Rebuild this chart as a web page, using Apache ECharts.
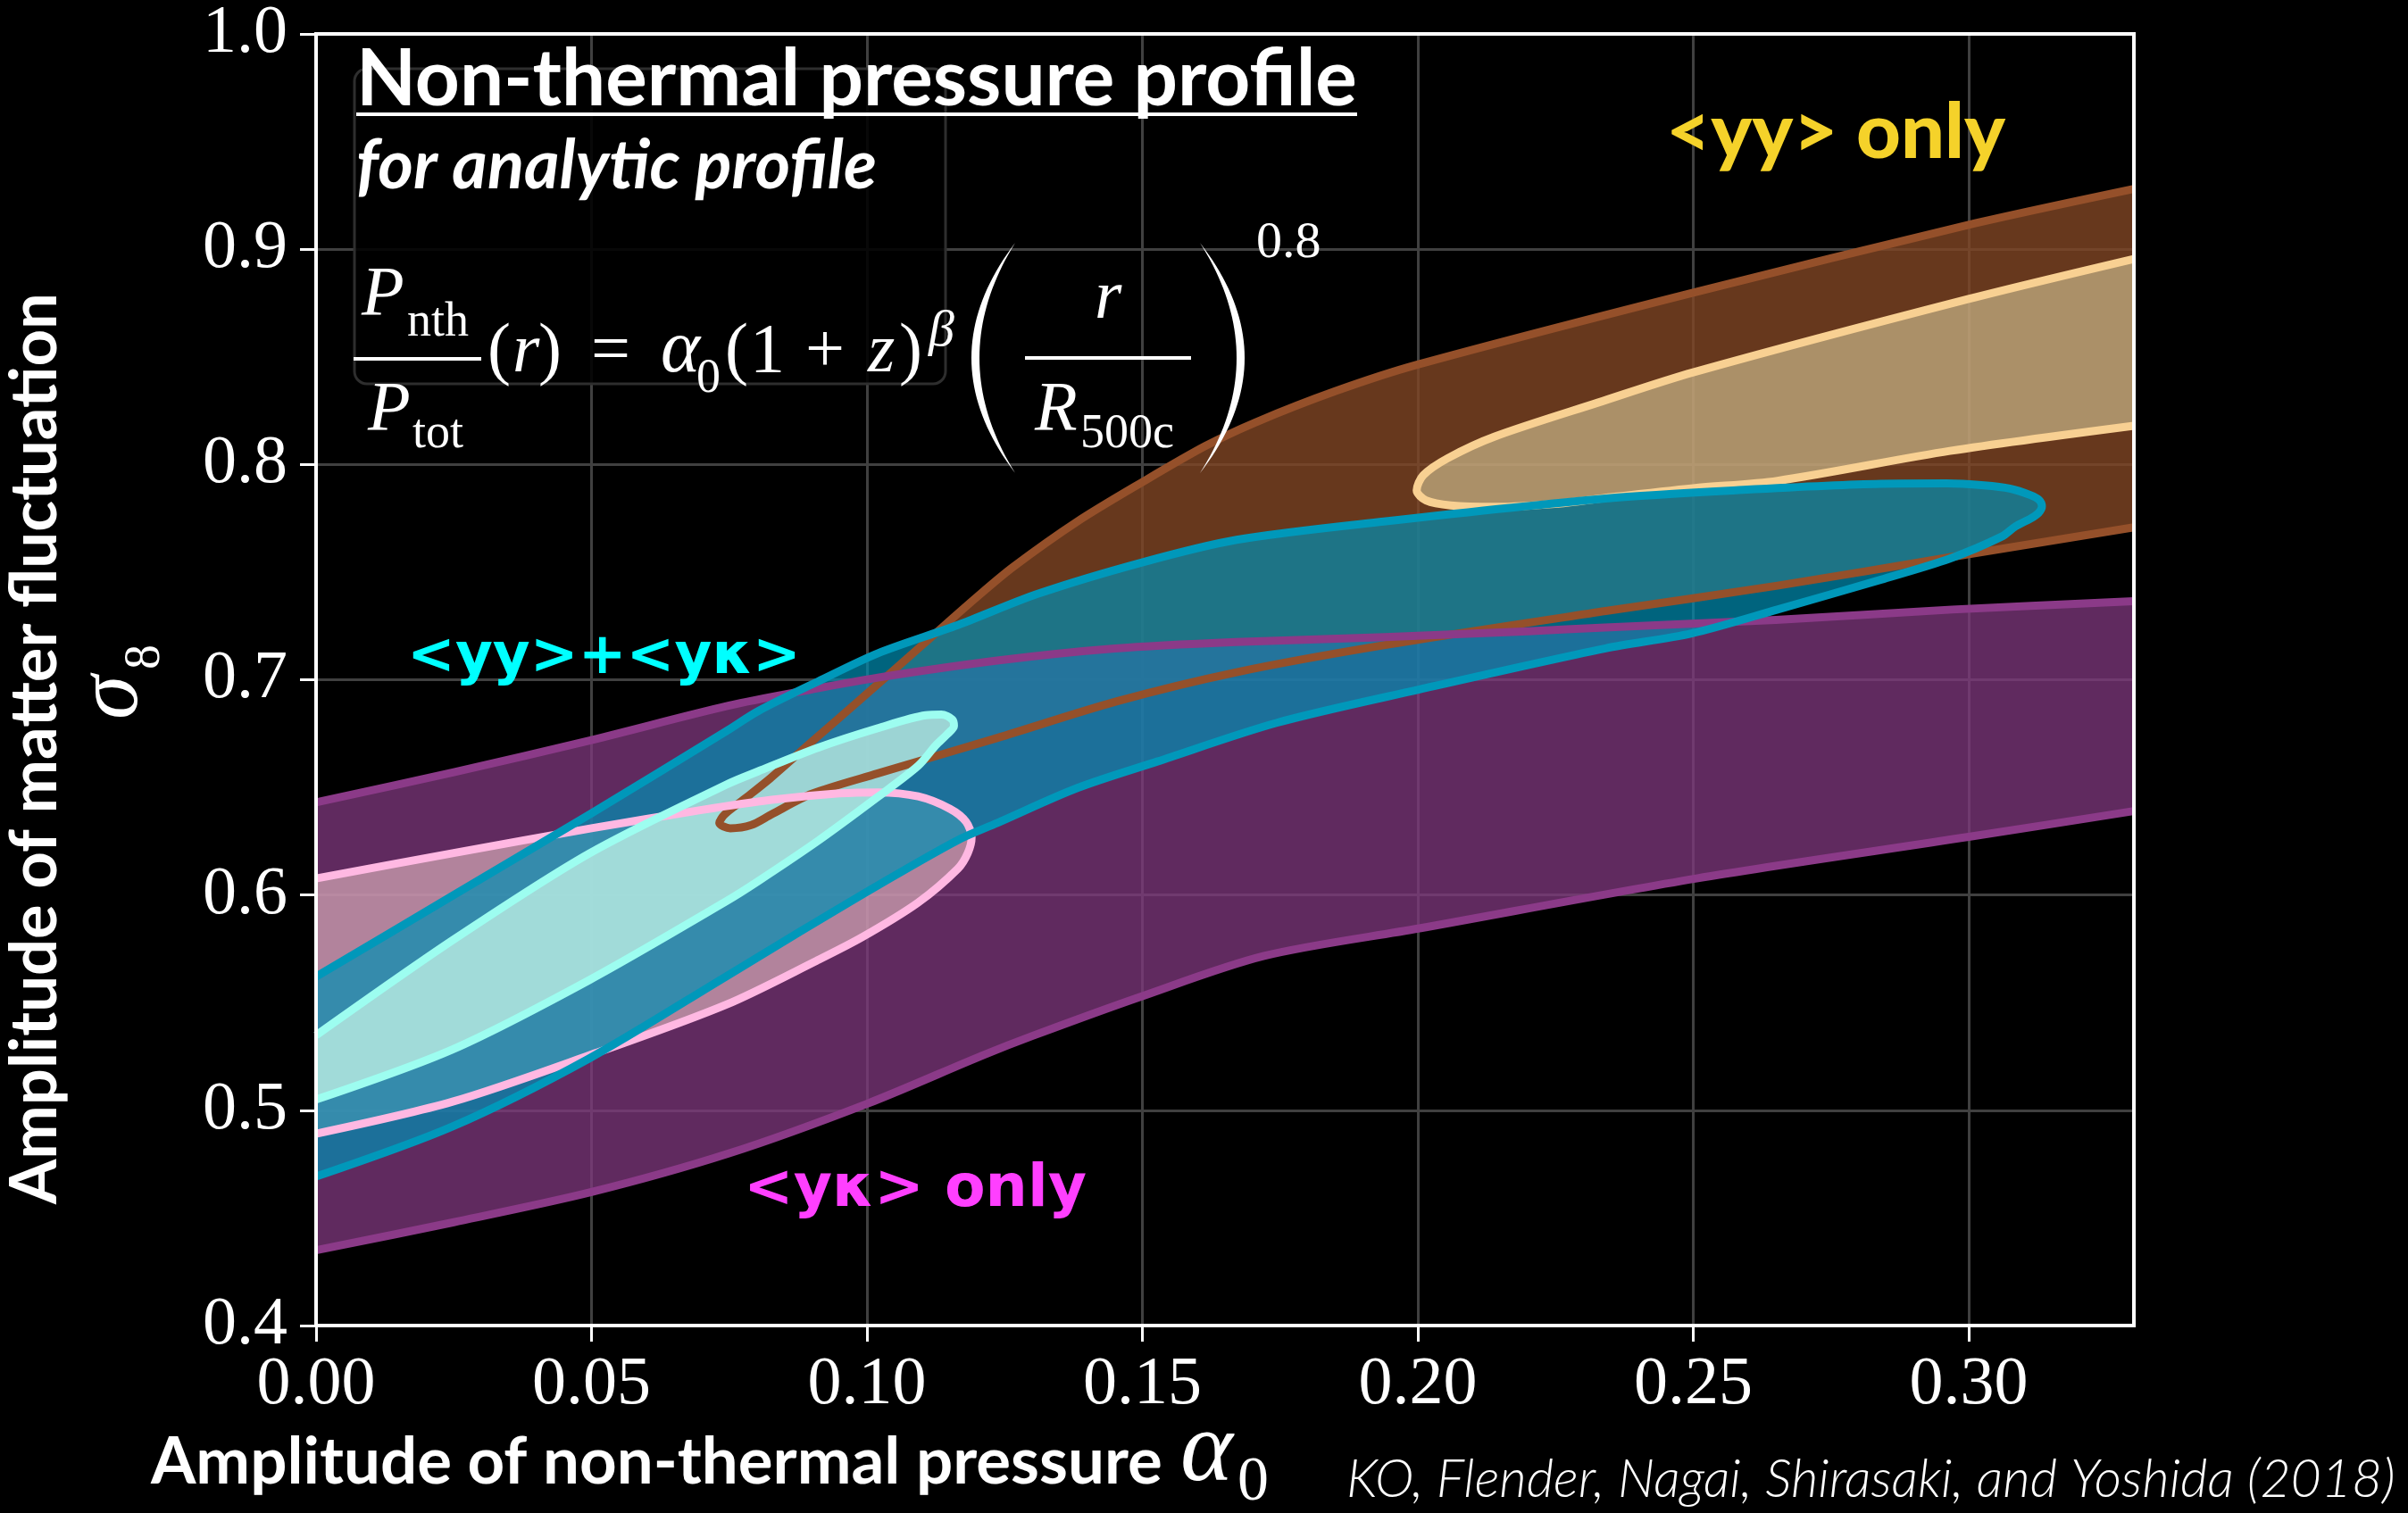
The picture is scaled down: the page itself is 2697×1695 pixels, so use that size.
<!DOCTYPE html>
<html>
<head>
<meta charset="utf-8">
<script src="https://cdn.jsdelivr.net/npm/echarts@6/dist/echarts.min.js"></script>
<style>
  html, body { margin: 0; padding: 0; background: #000; }
  #chart { width: 2697px; height: 1695px; }
</style>
</head>
<body>
<div id="chart"></div>
<script>
// ---- axis ticks ----
const xTicks = [0, 0.05, 0.10, 0.15, 0.20, 0.25, 0.30];
const yTicks = [0.4, 0.5, 0.6, 0.7, 0.8, 0.9, 1.0];

// ---- <yκ> only : 95% band (two edges) and 68% region (open at alpha0 = 0) ----
const ykBandUpper = [[0, 0.643], [0.025, 0.657], [0.05, 0.672], [0.075, 0.688], [0.09, 0.6955], [0.102, 0.701],
  [0.124, 0.709], [0.145, 0.7145], [0.167, 0.7175], [0.194, 0.7198], [0.22, 0.7225], [0.234, 0.7243],
  [0.265, 0.7278], [0.297, 0.7326], [0.33, 0.7365]];
const ykBandLower = [[0, 0.435], [0.025, 0.448], [0.05, 0.462], [0.075, 0.480], [0.1, 0.503], [0.121, 0.5255],
  [0.13, 0.5345], [0.1494, 0.5525], [0.1721, 0.5717], [0.2003, 0.5845], [0.2506, 0.6077], [0.30, 0.627], [0.33, 0.639]];
const ykInner = [[0, 0.6077], [0.025, 0.6195], [0.05, 0.631], [0.07, 0.6395], [0.0827, 0.6442], [0.095, 0.6472],
  [0.102, 0.6477], [0.1093, 0.6458], [0.1151, 0.640], [0.118, 0.634], [0.119, 0.6267], [0.1183, 0.6194],
  [0.1165, 0.6122], [0.1093, 0.5965], [0.0992, 0.5805], [0.0909, 0.5695], [0.0744, 0.549], [0.0496, 0.5255],
  [0.0248, 0.504], [0, 0.4891]];

// ---- <yy> only : 95% and 68% regions (open at the right edge) ----
const yyOuter = [[0.33, 0.928], [0.30, 0.9113], [0.25, 0.8798], [0.20, 0.8464], [0.185, 0.834], [0.1705, 0.8195],
  [0.1614, 0.8085], [0.1498, 0.7915], [0.1382, 0.7735], [0.1266, 0.7525], [0.12, 0.7385], [0.11, 0.716],
  [0.10, 0.6935], [0.09, 0.6712], [0.0825, 0.6543], [0.0777, 0.6445], [0.0742, 0.6375], [0.0732, 0.6335],
  [0.0752, 0.631], [0.079, 0.6325], [0.0827, 0.6375], [0.090, 0.647], [0.102, 0.6565], [0.1237, 0.673],
  [0.1454, 0.690], [0.1671, 0.7035], [0.1938, 0.716], [0.2341, 0.7319], [0.2653, 0.7437], [0.2966, 0.7569],
  [0.33, 0.7708]];
const yyInner = [[0.33, 0.8955], [0.30, 0.8769], [0.25, 0.8428], [0.2328, 0.8288], [0.214, 0.813], [0.2055, 0.803],
  [0.201, 0.795], [0.1998, 0.788], [0.2015, 0.7833], [0.206, 0.781], [0.214, 0.7803], [0.2255, 0.7818],
  [0.2341, 0.7845], [0.25, 0.789], [0.2653, 0.7924], [0.2966, 0.8063], [0.33, 0.818]];

// ---- <yy>+<yκ> : 95% and 68% regions (open at alpha0 = 0) ----
const jointOuter = [[0, 0.5621], [0.025, 0.600], [0.05, 0.638], [0.0744, 0.676], [0.0803, 0.6855], [0.0912, 0.6993],
  [0.102, 0.7123], [0.1165, 0.7254], [0.131, 0.7399], [0.1498, 0.7544], [0.1671, 0.765], [0.1938, 0.7735],
  [0.2341, 0.7842], [0.2591, 0.7882], [0.2841, 0.791], [0.296, 0.7912], [0.3028, 0.7903], [0.3075, 0.7888],
  [0.3112, 0.7858], [0.3128, 0.7835], [0.3133, 0.7805], [0.3127, 0.7775], [0.3112, 0.7748], [0.3085, 0.7712],
  [0.306, 0.7665], [0.2966, 0.7563], [0.2841, 0.7465], [0.2653, 0.7326], [0.2497, 0.7215], [0.2341, 0.7146],
  [0.2003, 0.6955], [0.1744, 0.680], [0.1527, 0.662], [0.1382, 0.6497], [0.1237, 0.6335], [0.1165, 0.6255],
  [0.102, 0.6045], [0.0876, 0.5826], [0.0744, 0.5621], [0.0496, 0.5241], [0.0248, 0.4925], [0, 0.4692]];
const jointInner = [[0, 0.5348], [0.0248, 0.579], [0.0496, 0.6193], [0.0744, 0.6512], [0.0803, 0.6575],
  [0.0912, 0.6685], [0.102, 0.6775], [0.1107, 0.6835], [0.1135, 0.6838], [0.1155, 0.6815], [0.1158, 0.6785],
  [0.1145, 0.6745], [0.1125, 0.6695], [0.1093, 0.660], [0.102, 0.6456], [0.0912, 0.6253], [0.0803, 0.6065],
  [0.0744, 0.597], [0.0496, 0.5605], [0.0248, 0.5283], [0, 0.505]];

// ---- text helpers ----
const mctx = document.createElement('canvas').getContext('2d');
function fontStr(size, family, prefix) {
  return (prefix ? prefix + ' ' : '') + size.toFixed(2) + 'px ' + family;
}
function fitSize(text, family, prefix, width) {
  mctx.font = fontStr(100, family, prefix);
  return 100 * width / mctx.measureText(text).width;
}
function midOffset(font, size) {
  mctx.font = font;
  mctx.textBaseline = 'alphabetic';
  const m = mctx.measureText('Hg');
  if (m.fontBoundingBoxAscent !== undefined) {
    return (m.fontBoundingBoxAscent - m.fontBoundingBoxDescent) / 2;
  }
  return 0.3 * size;
}
// text placed by its left edge and alphabetic baseline
function label(text, x, baseline, size, family, prefix, fill, z) {
  const font = fontStr(size, family, prefix);
  const off = midOffset(font, size);
  return {
    type: 'text', x: x, y: baseline - off, z: z || 50, silent: true,
    style: { text: text, font: font, fill: fill || '#fff',
      align: 'left', verticalAlign: 'middle', textAlign: 'left', textVerticalAlign: 'middle' }
  };
}
// rotated (reading upwards) text; baselineX is the baseline position, yStart the bottom end
function vlabel(text, baselineX, yStart, size, family, prefix, fill) {
  const font = fontStr(size, family, prefix);
  const off = midOffset(font, size);
  return {
    type: 'text', x: baselineX - off, y: yStart, rotation: Math.PI / 2, z: 50, silent: true,
    style: { text: text, font: font, fill: fill || '#fff',
      align: 'left', verticalAlign: 'middle', textAlign: 'left', textVerticalAlign: 'middle' }
  };
}
function bar(x1, x2, y, h) {
  return { type: 'rect', z: 50, silent: true, shape: { x: x1, y: y - h / 2, width: x2 - x1, height: h }, style: { fill: '#fff' } };
}
// tall parenthesis as a thin crescent made of two quadratic curves
function bigParen(xEnd, yTop, yBot, cOuter, cInner) {
  const pts = [];
  const yMid = (yTop + yBot) / 2;
  const q = (t, a, c, b) => (1 - t) * (1 - t) * a + 2 * (1 - t) * t * c + t * t * b;
  for (let i = 0; i <= 40; i++) { const t = i / 40; pts.push([q(t, xEnd, cOuter, xEnd), q(t, yTop, yMid, yBot)]); }
  for (let i = 40; i >= 0; i--) { const t = i / 40; pts.push([q(t, xEnd, cInner, xEnd), q(t, yTop, yMid, yBot)]); }
  return { type: 'polygon', z: 50, silent: true, shape: { points: pts }, style: { fill: '#fff' } };
}

const SANS = 'Lato';
const WIDE = "'DejaVu Sans'";
const SERIF = "'Liberation Serif'";

const titleText = 'Non-thermal pressure profile';
const titleSize = fitSize(titleText, SANS, 'bold', 1121);
const subText = 'for analytic profile';
const subSize = fitSize(subText, SANS, 'italic bold', 583);
const yyText = '<yy> only';
const yySize = fitSize(yyText, SANS, '900', 380);
const jointText = '<yy>+<yκ>';
const jointSize = fitSize(jointText, WIDE, 'bold', 441);
const ykText = '<yκ> only';
const ykSize = fitSize(ykText, WIDE, 'bold', 384);
const xTitle = 'Amplitude of non-thermal pressure';
const xTitleSize = fitSize(xTitle, SANS, 'bold', 1133);
const yTitle = 'Amplitude of matter fluctuation';
const yTitleSize = fitSize(yTitle, SANS, 'bold', 1021);
const citeText = 'KO, Flender, Nagai, Shirasaki, and Yoshida (2018)';
const citeSize = fitSize(citeText, SANS, 'italic 300', 1175);

const M = 78, S = 54;
const graphics = [
  // frame behind the formula block
  { type: 'rect', z: 1, silent: true, shape: { x: 397, y: 77, width: 662, height: 353, r: 14 },
    style: { fill: 'rgba(0,0,0,0.88)', stroke: '#2e2e2e', lineWidth: 3 } },
  label(titleText, 399, 123, titleSize, SANS, 'bold'),
  bar(399, 399 + 1121, 128, 4),
  label(subText, 399, 216, subSize, SANS, 'italic bold'),
  // P_nth / P_tot (r) = α0 (1+z)^β ( r / R500c )^0.8
  label('P', 405, 358, M, SERIF, 'italic'),
  label('nth', 456, 380, S, SERIF),
  bar(396, 539, 402, 4),
  label('P', 412, 487, M, SERIF, 'italic'),
  label('tot', 462, 505, S, SERIF),
  label('(', 546, 422, M, SERIF),
  label('r', 574, 422, M, SERIF, 'italic'),
  label(')', 603, 422, M, SERIF),
  label('=', 662, 422, M, SERIF),
  label('α', 740, 422, 84, SERIF, 'italic'),
  label('0', 780, 443, S, SERIF),
  label('(', 812, 422, M, SERIF),
  label('1', 840, 422, M, SERIF),
  label('+', 902, 422, M, SERIF),
  label('z', 972, 422, M, SERIF, 'italic'),
  label(')', 1007, 422, M, SERIF),
  label('β', 1040, 391, 58, SERIF, 'italic'),
  bigParen(1137, 272, 530, 1039, 1057),
  label('r', 1226, 362, M, SERIF, 'italic'),
  bar(1148, 1334, 401, 4),
  label('R', 1159, 487, M, SERIF, 'italic'),
  label('500c', 1210, 505, S, SERIF),
  bigParen(1344, 272, 530, 1444, 1426),
  label('0.8', 1407, 292, 58, SERIF),
  // region labels
  label(yyText, 1866, 183, yySize, SANS, '900', '#f5d22a'),
  label(jointText, 456, 760, jointSize, WIDE, 'bold', '#00ffff'),
  label(ykText, 833, 1357, ykSize, WIDE, 'bold', '#ff3fff'),
  // axis titles
  label(xTitle, 169, 1667, xTitleSize, SANS, 'bold'),
  label('α', 1322, 1667, 112, SERIF, 'italic'),
  label('0', 1386, 1685, 70, SERIF),
  vlabel(yTitle, 68, 1349, yTitleSize, SANS, 'bold'),
  vlabel('σ', 160, 806, 100, SERIF, 'italic'),
  vlabel('8', 182, 750, 56, SERIF),
  // citation
  label(citeText, 1508, 1680, citeSize, SANS, 'italic 300'),
  // plot frame
  { type: 'rect', z: 40, silent: true, shape: { x: 354, y: 38, width: 2036, height: 1447 },
    style: { fill: 'none', stroke: '#fff', lineWidth: 4 } }
];

// ---- series builders ----
function region(name, pts, fill, z) {
  return {
    type: 'custom', name: name, coordinateSystem: 'cartesian2d', data: pts, z: z,
    silent: true, animation: false, clip: true,
    renderItem: function (params, api) {
      if (params.dataIndex !== 0) return null;
      return { type: 'polygon', shape: { points: pts.map(function (p) { return api.coord(p); }) }, style: { fill: fill } };
    }
  };
}
function outline(name, pts, color, z) {
  return {
    type: 'line', name: name, data: pts, z: z, symbol: 'none', showSymbol: false, smooth: 0.3,
    silent: true, animation: false, clip: true,
    lineStyle: { color: color, width: 9, join: 'round', cap: 'butt' }
  };
}

const ykBand = ykBandUpper.concat(ykBandLower.slice().reverse());

const series = [
  region('<yy> only 95%', yyOuter, 'rgba(129,70,36,0.8)', 2),
  region('<yy> only 68%', yyInner, 'rgba(240,232,180,0.5)', 3),
  region('<yκ> only 95%', ykBand, 'rgba(128,56,127,0.75)', 4),
  region('<yκ> only 68%', ykInner, 'rgba(234,192,197,0.6)', 5),
  region('<yy>+<yκ> 95%', jointOuter, 'rgba(0,143,179,0.7)', 6),
  region('<yy>+<yκ> 68%', jointInner, 'rgba(208,254,236,0.7)', 7),
  outline('<yy> only 95% edge', yyOuter, '#95502a', 10),
  outline('<yy> only 68% edge', yyInner, '#f8d092', 11),
  outline('<yκ> only 95% upper edge', ykBandUpper, '#8b3a88', 12),
  outline('<yκ> only 95% lower edge', ykBandLower, '#8b3a88', 12),
  outline('<yκ> only 68% edge', ykInner, '#ffb8e2', 13),
  outline('<yy>+<yκ> 95% edge', jointOuter, '#0098ba', 14),
  outline('<yy>+<yκ> 68% edge', jointInner, '#9dfdf0', 15)
];

const tickFont = SERIF;
const chart = echarts.init(document.getElementById('chart'), null, { renderer: 'canvas', width: 2697, height: 1695 });
chart.setOption({
  backgroundColor: '#000',
  animation: false,
  grid: { left: 354, top: 38, width: 2036, height: 1447, containLabel: false, outerBoundsMode: 'none' },
  xAxis: {
    type: 'value', min: 0, max: 0.33, interval: 0.05, z: 0,
    axisLine: { show: true, lineStyle: { color: '#fff', width: 4 } },
    axisTick: { show: true, inside: false, length: 18, lineStyle: { color: '#fff', width: 3 }, customValues: xTicks },
    axisLabel: { show: true, margin: 29, color: '#fff', fontFamily: tickFont, fontSize: 76,
      customValues: xTicks, formatter: function (v) { return Number(v).toFixed(2); } },
    splitLine: { show: true, lineStyle: { color: '#404040', width: 3 } }
  },
  yAxis: {
    type: 'value', min: 0.4, max: 1.0, interval: 0.1, z: 0,
    axisLine: { show: true, lineStyle: { color: '#fff', width: 4 } },
    axisTick: { show: true, inside: false, length: 18, lineStyle: { color: '#fff', width: 3 }, customValues: yTicks },
    axisLabel: { show: true, margin: 32, color: '#fff', fontFamily: tickFont, fontSize: 76,
      customValues: yTicks, formatter: function (v) { return Number(v).toFixed(1); } },
    splitLine: { show: true, lineStyle: { color: '#404040', width: 3 } }
  },
  graphic: { elements: graphics },
  series: series
});
</script>
</body>
</html>
